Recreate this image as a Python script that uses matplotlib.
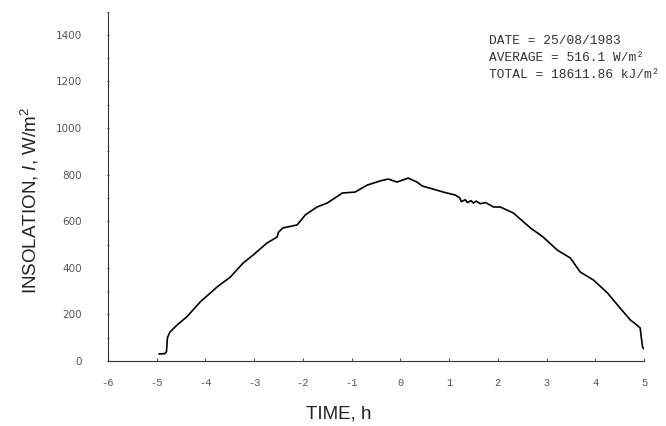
import matplotlib
matplotlib.use("Agg")
import matplotlib.pyplot as plt

plt.rcParams['mathtext.fontset'] = 'custom'
plt.rcParams['mathtext.rm'] = 'Liberation Sans'
plt.rcParams['mathtext.it'] = 'Liberation Sans:italic'

# insolation record (time from solar noon, h ; W/m2)
time_h = [-4.95, -4.83, -4.80, -4.78, -4.73, -4.58, -4.38, -4.11, -3.76,
          -3.49, -3.23, -3.02, -2.74, -2.53, -2.50, -2.41, -2.12, -1.95,
          -1.71, -1.50, -1.19, -0.93, -0.68, -0.41, -0.25, -0.07, 0.16,
          0.34, 0.45, 0.67, 0.88, 1.13, 1.22, 1.25, 1.33, 1.38, 1.45, 1.50,
          1.56, 1.64, 1.75, 1.91, 2.05, 2.32, 2.67, 2.93, 3.22, 3.49, 3.69,
          3.96, 4.25, 4.51, 4.72, 4.85, 4.92, 4.97, 5.00]
insolation = [30, 32, 40, 100, 124, 155, 190, 253, 318,
              360, 420, 455, 506, 532, 553, 571, 584, 627,
              661, 678, 721, 725, 755, 773, 781, 768, 785,
              768, 751, 738, 725, 712, 700, 684, 692, 680, 688, 678,
              686, 675, 680, 661, 661, 635, 571, 532, 476, 442, 382,
              348, 292, 227, 176, 155, 142, 60, 52]

x_ticks = [-6, -5, -4, -3, -2, -1, 0, 1, 2, 3, 4, 5]
y_ticks = [0, 200, 400, 600, 800, 1000, 1200, 1400]

note_lines = ["DATE = 25/08/1983",
              "AVERAGE = 516.1 W/m\u00b2",
              "TOTAL = 18611.86 kJ/m\u00b2"]

fig = plt.figure(figsize=(6.66, 4.26), dpi=100)
ax = fig.add_axes([108 / 666, 65 / 426, 536 / 666, 349.5 / 426])

ax.plot(time_h, insolation, color='black', lw=1.2)

ax.set_xlim(-6, 5)
ax.set_ylim(0, 1500)
ax.spines['top'].set_visible(False)
ax.spines['right'].set_visible(False)
ax.spines['left'].set_color('#333333')
ax.spines['bottom'].set_color('#333333')

ax.set_xticks(x_ticks)
ax.set_yticks(range(0, 1501, 100), minor=True)
ax.set_yticks(y_ticks)
ax.set_xticklabels([str(v) for v in x_ticks], fontfamily='Liberation Mono',
                   fontsize=7.5, color='#555555')
ax.set_yticklabels([str(v) for v in y_ticks], fontfamily='DejaVu Sans',
                   fontsize=7.5, color='#555555')
ax.tick_params(axis='x', length=2, direction='in', pad=12, color='#555555')
ax.tick_params(axis='y', which='both', length=2, direction='inout', pad=18,
               color='#555555')

ax.set_xlabel('TIME, h', fontfamily='Liberation Sans', fontsize=13.5,
              color='#222222')
ax.xaxis.set_label_coords(0.431, -0.128)
ax.set_ylabel(r'INSOLATION, $\mathit{I}$, W/m$^2$', fontfamily='Liberation Sans',
              fontsize=13.5, color='#222222')
ax.yaxis.set_label_coords(-0.125, 0.46)

for i, line in enumerate(note_lines):
    ax.text(489 / 666, (426 - 41 - i * 17) / 426, line, transform=fig.transFigure,
            fontfamily='Liberation Mono', fontsize=9.3, color='#333333',
            va='center', ha='left')

fig.savefig('out.png', dpi=100)
